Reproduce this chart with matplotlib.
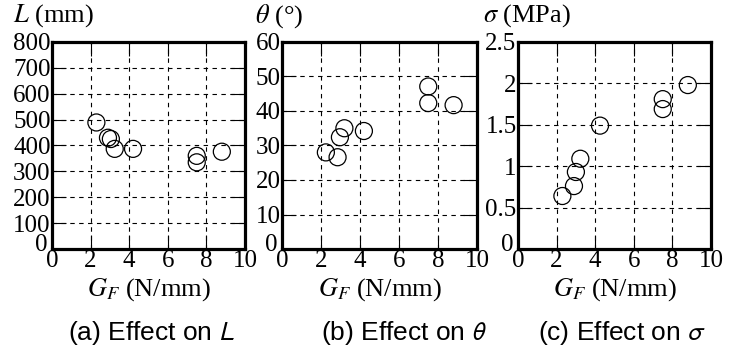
import numpy as np
import matplotlib
matplotlib.use("Agg")
import matplotlib.pyplot as plt
from matplotlib.transforms import ScaledTranslation

plt.rcParams['font.family'] = ['Liberation Serif', 'DejaVu Serif']
plt.rcParams['mathtext.fontset'] = 'stix'

# fracture energy G_F (N/mm), same specimens in all panels
gf_a = [2.3, 2.9, 3.05, 3.25, 4.2, 7.5, 7.5, 8.8]
length_mm = [489, 430, 425, 387, 387, 360, 335, 376]

gf_b = [2.25, 2.85, 2.97, 3.2, 4.2, 7.5, 7.5, 8.8]
theta_deg = [28.0, 26.6, 32.4, 35.0, 34.2, 47.1, 42.3, 41.7]

gf_c = [2.3, 2.9, 3.0, 3.23, 4.25, 7.5, 7.5, 8.8]
sigma_mpa = [0.64, 0.76, 0.93, 1.09, 1.49, 1.81, 1.69, 1.98]

x_ticks = [0, 2, 4, 6, 8, 10]
y_ticks_a = [0, 100, 200, 300, 400, 500, 600, 700, 800]
y_ticks_b = [0, 10, 20, 30, 40, 50, 60]
y_ticks_c = [0, 0.5, 1, 1.5, 2, 2.5]
y_labels_c = ['0', '0.5', '1', '1.5', '2', '2.5']

panels = [
    (gf_a, length_mm, y_ticks_a, [str(v) for v in y_ticks_a], r'$L$ (mm)',
     r'(a) Effect on $L$'),
    (gf_b, theta_deg, y_ticks_b, [str(v) for v in y_ticks_b], r'$\theta$ (°)',
     r'(b) Effect on $\theta$'),
    (gf_c, sigma_mpa, y_ticks_c, y_labels_c, r'$\sigma$ (MPa)',
     r'(c) Effect on $\sigma$'),
]

fig = plt.figure(figsize=(7.33, 3.47), dpi=100)

W, H = 733.0, 347.0
# axes boxes in pixels: left, right
boxes = [(52, 245), (282, 477), (518, 711)]
top_px, bot_px = 42, 249
ylab_x = [13, 255, 483]
cap_x = [152, 404, 622]

for i, (x, y, yt, ytl, ylab, cap) in enumerate(panels):
    l, r = boxes[i]
    ax = fig.add_axes([l / W, (H - bot_px) / H, (r - l) / W, (bot_px - top_px) / H])
    ax.scatter(x, y, s=150, facecolors='none', edgecolors='black',
               linewidths=0.9, zorder=3)
    ax.set_xlim(0, 10)
    ax.set_ylim(yt[0], yt[-1])
    ax.set_xticks(x_ticks)
    ax.set_yticks(yt)
    ax.set_yticklabels(ytl)
    ax.grid(True, color='black', linestyle=(0, (4, 4)), linewidth=0.8)
    ax.tick_params(direction='in', top=True, right=True, length=10,
                   width=0.8, labelsize=18, pad=1)
    # the y "0" sits a little higher than the axis corner
    lab0 = ax.get_yticklabels()[0]
    lab0.set_transform(lab0.get_transform() +
                       ScaledTranslation(-2 / 72, 5 / 72, fig.dpi_scale_trans))
    for sp in ax.spines.values():
        sp.set_linewidth(2.3)
    ax.set_xlabel(r'$G_F$ (N/mm)', fontsize=19, labelpad=3)
    fig.text(ylab_x[i] / W, (H - 16) / H, ylab, fontsize=19,
             ha='left', va='center')
    fig.text(cap_x[i] / W, (H - 333) / H, cap, fontsize=19, ha='center',
             va='center', family='Liberation Sans', math_fontfamily='stixsans')

fig.savefig('out.png', dpi=100)
